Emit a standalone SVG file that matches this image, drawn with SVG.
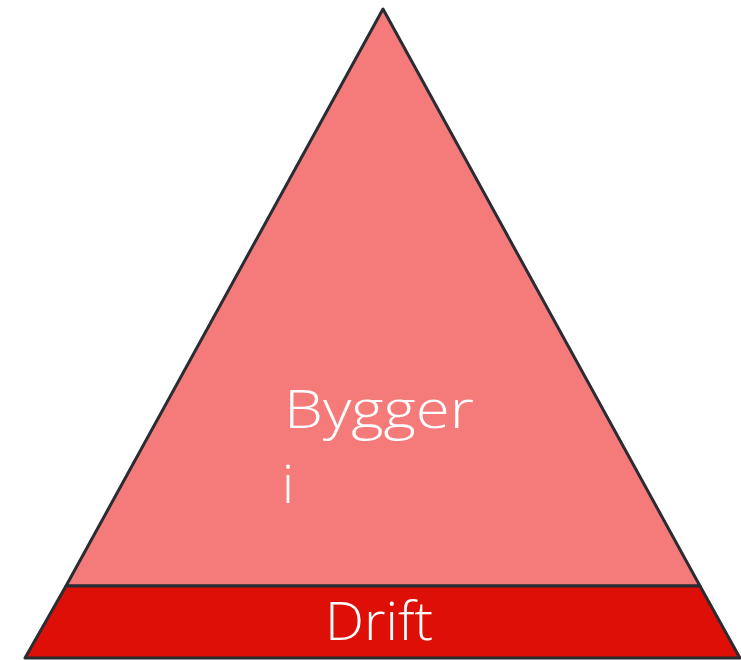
<svg xmlns="http://www.w3.org/2000/svg" width="741" height="660" viewBox="0 0 741 660">
<style>
.edge{stroke:#292c33;stroke-width:3;stroke-linejoin:round}
.lbl{font-family:"Open Sans","Liberation Sans",sans-serif;font-weight:300;fill:#ffffff;font-size:53px}
</style>
<rect width="741" height="660" fill="#ffffff"/>
<g id="top">
<polygon class="edge" points="383,9 66,586 700,586" fill="#f57a7a"/>
<text class="lbl" x="284" y="428" textLength="190" lengthAdjust="spacingAndGlyphs">Bygger</text>
<text class="lbl" x="282" y="503">i</text>
</g>
<g id="drift">
<polygon class="edge" points="66,586 700,586 740,658 25,658" fill="#de0f07"/>
<text class="lbl" x="379" y="640" text-anchor="middle" textLength="108" lengthAdjust="spacingAndGlyphs">Drift</text>
</g>
</svg>
